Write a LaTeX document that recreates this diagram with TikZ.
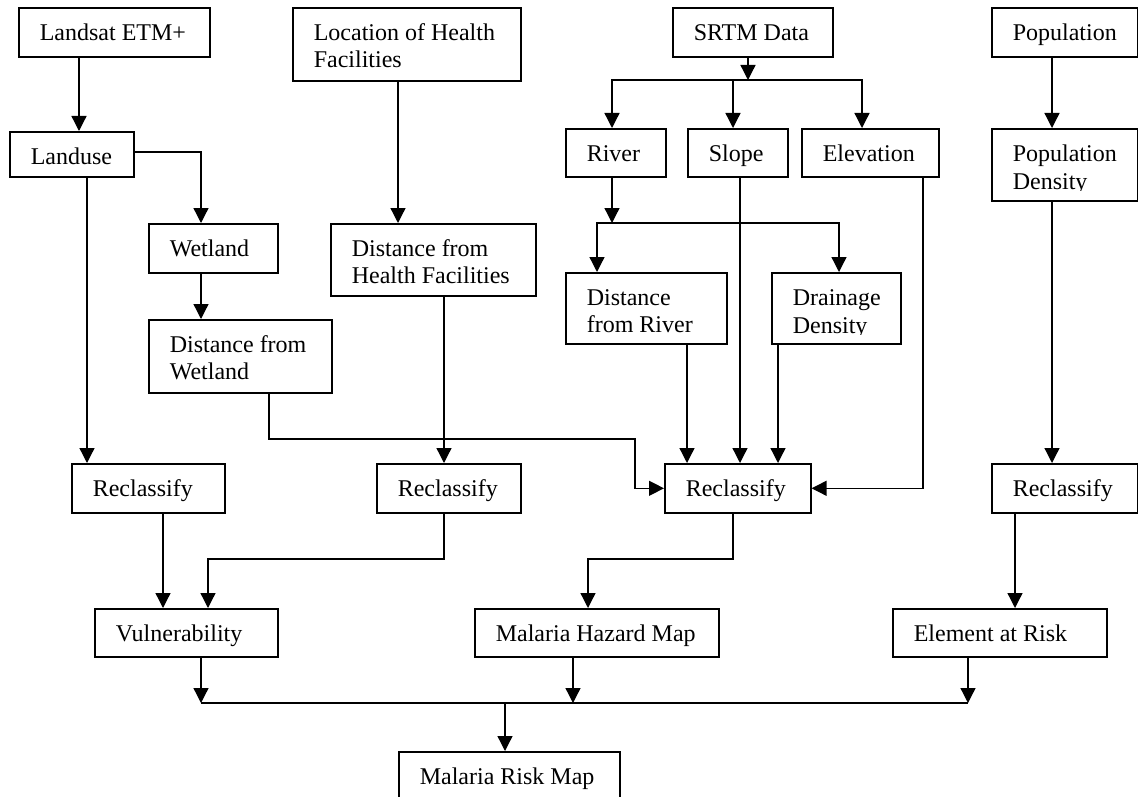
\documentclass[tikz,border=0pt]{standalone}
\usepackage{fontspec}
\setmainfont{Liberation Serif}
\usetikzlibrary{arrows.meta}
\newcommand\bt[3]{\parbox[c][#2pt][t]{#1pt}{\raggedright\leftskip=21pt\relax\hbadness=10000\rule{0pt}{33pt}#3}}
\newcommand\cliptxt[1]{\tikz[baseline=0pt,x=1pt,y=1pt]{\clip (0,-1) rectangle (90,22); \pgftext[base,left]{#1}}}
\begin{document}
\begin{tikzpicture}[x=1pt,y=-1pt,
  box/.style={draw, line width=1.6pt, inner sep=0pt, anchor=north west, font=\fontsize{24pt}{27pt}\selectfont},
  arr/.style={line width=1.3pt, -{Triangle[length=15pt,width=15pt]}},
  ln/.style={line width=1.3pt}]
\useasboundingbox (0,0) rectangle (1138,797);
\clip (0,0) rectangle (1138,797);
% boxes
\node[box] (landsat) at (18,7) {\bt{191}{49}{Landsat ETM+}};
\node[box] (location) at (292,7) {\bt{228}{73}{Location of Health\\Facilities}};
\node[box] (srtm) at (672,7) {\bt{160}{49}{SRTM Data}};
\node[box] (pop) at (991,7) {\bt{146}{49}{Population}};
\node[box] (landuse) at (9,131) {\bt{124}{45}{Landuse}};
\node[box] (river) at (565,128) {\bt{100}{48}{River}};
\node[box] (slope) at (687,128) {\bt{100}{48}{Slope}};
\node[box] (elev) at (801,128) {\bt{137}{48}{Elevation}};
\node[box] (popden) at (991,128) {\bt{146}{72}{Population\\\cliptxt{Density}}};
\node[box] (wetland) at (148,223) {\bt{129}{49}{Wetland}};
\node[box] (disthealth) at (330,223) {\bt{205}{72}{Distance from\\Health Facilities}};
\node[box] (distwet) at (148,319) {\bt{183}{73}{Distance from\\Wetland}};
\node[box] (distriver) at (565,272) {\bt{161}{71}{Distance\\from River}};
\node[box] (drainage) at (771,272) {\bt{129}{71}{Drainage\\\cliptxt{Density}}};
\node[box] (rec1) at (71,463) {\bt{153}{49}{Reclassify}};
\node[box] (rec2) at (376,463) {\bt{144}{49}{Reclassify}};
\node[box] (rec3) at (664,463) {\bt{146}{49}{Reclassify}};
\node[box] (rec4) at (991,463) {\bt{146}{49}{Reclassify}};
\node[box] (vuln) at (94,608) {\bt{183}{48}{Vulnerability}};
\node[box] (hazard) at (474,608) {\bt{244}{48}{Malaria Hazard Map}};
\node[box] (element) at (892,608) {\bt{214}{48}{Element at Risk}};
\node[box] (risk) at (398,751) {\bt{221}{49}{Malaria Risk Map}};
% junction coordinates
\coordinate (wj) at (635,439);
\coordinate (sj) at (748,80);
\coordinate (sl) at (612,80);
\coordinate (sm) at (733,80);
\coordinate (sr) at (862,80);
\coordinate (rj) at (612,223);
\coordinate (rl) at (597,223);
\coordinate (rr) at (839,223);
\coordinate (vj) at (208,559);
\coordinate (hj) at (588,559);
\coordinate (bl) at (201,703);
\coordinate (bm) at (505,703);
\coordinate (br) at (968,703);
% connectors
\draw[arr] ([xshift=61pt]landsat.south west) coordinate (p) -- (p |- landuse.north);
\draw[arr] ([yshift=-21pt]landuse.north east) -| ([xshift=53pt]wetland.north west);
\draw[arr] ([xshift=78pt]landuse.south west) coordinate (p) -- (p |- rec1.north);
\draw[arr] ([xshift=53pt]wetland.south west) coordinate (p) -- (p |- distwet.north);
\draw[arr] ([xshift=106pt]location.south west) coordinate (p) -- (p |- disthealth.north);
\draw[arr] ([xshift=114pt]disthealth.south west) coordinate (p) -- (p |- rec2.north);
\draw[arr] ([xshift=121pt]distwet.south west) coordinate (p) -- (p |- wj) -- (wj) -- (wj |- rec3.west) -- (rec3.west);
\draw[arr] (srtm.south -| sj) -- (sj);
\draw[arr] (sr) -- (sl) -- (sl |- river.north);
\draw[arr] (sl) -- (sr) -- (sr |- elev.north);
\draw[arr] (sm) -- (sm |- slope.north);
\draw[arr] (river.south -| rj) -- (rj);
\draw[arr] (rr) -- (rl) -- (rl |- distriver.north);
\draw[arr] (rl) -- (rr) -- (rr |- drainage.north);
\draw[arr] ([xshift=53pt]slope.south west) coordinate (p) -- (p |- rec3.north);
\draw[arr] ([xshift=122pt]distriver.south west) coordinate (p) -- (p |- rec3.north);
\draw[arr] ([xshift=7pt]drainage.south west) coordinate (p) -- (p |- rec3.north);
\draw[arr] ([xshift=122pt]elev.south west) coordinate (p) -- (p |- rec3.east) -- (rec3.east);
\draw[arr] ([xshift=61pt]pop.south west) coordinate (p) -- (p |- popden.north);
\draw[arr] ([xshift=61pt]popden.south west) coordinate (p) -- (p |- rec4.north);
\draw[arr] ([xshift=92pt]rec1.south west) coordinate (p) -- (p |- vuln.north);
\draw[arr] ([xshift=68pt]rec2.south west) coordinate (p) -- (p |- vj) -- (vj) -- (vj |- vuln.north);
\draw[arr] ([xshift=69pt]rec3.south west) coordinate (p) -- (p |- hj) -- (hj) -- (hj |- hazard.north);
\draw[arr] ([xshift=24pt]rec4.south west) coordinate (p) -- (p |- element.north);
\draw[arr] (vuln.south -| bl) -- (bl);
\draw[arr] ([xshift=99pt]hazard.south west) coordinate (p) -- (p |- bm);
\draw[arr] (element.south -| br) -- (br);
\draw[ln] (bl) -- (br);
\draw[arr] (bm) -- (bm |- risk.north);
\end{tikzpicture}
\end{document}
